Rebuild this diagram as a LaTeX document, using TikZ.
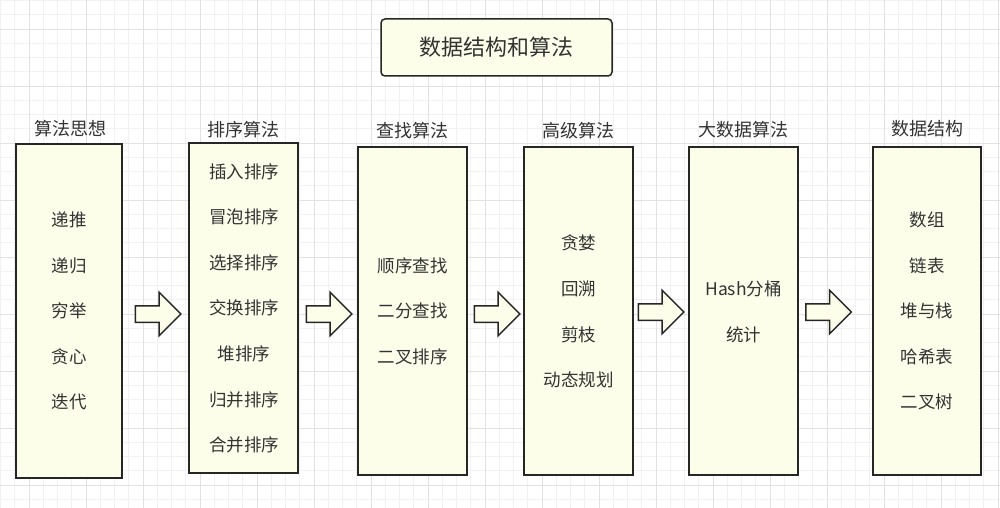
\documentclass[tikz,border=0pt]{standalone}
\usepackage{fontspec}
\setmainfont{Noto Sans CJK SC}
\usetikzlibrary{shapes.arrows}
\definecolor{boxfill}{HTML}{FDFEEA}
\definecolor{boxline}{HTML}{262626}
\definecolor{txt}{HTML}{333333}
\definecolor{gridminor}{HTML}{F1F1F1}
\definecolor{gridmajor}{HTML}{E2E2E2}
\tikzset{
  colbox/.style={draw=boxline, fill=boxfill, line width=1.5pt, inner sep=0pt},
  titlebox/.style={draw=boxline, fill=boxfill, line width=1.5pt, rounded corners=4pt, inner sep=0pt, minimum width=231pt, minimum height=57pt, font=\fontsize{22}{26}\selectfont, text=txt},
  collabel/.style={font=\fontsize{18}{22}\selectfont, text=txt, inner sep=0pt},
  item/.style={font=\fontsize{17.5}{21}\selectfont, text=txt, inner sep=0pt},
  blockarrow/.style={single arrow, draw=boxline, fill=boxfill, line width=1.5pt, minimum height=45.5pt, inner sep=7.5pt, single arrow head extend=13.5pt, single arrow tip angle=90, text width=0pt}
}
\begin{document}
\begin{tikzpicture}[x=1pt,y=-1pt]
\useasboundingbox (0,0) rectangle (1000,508);
\fill[white] (0,0) rectangle (1000,508);
% grid
\foreach \i in {0,...,70} {
  \draw[gridminor, line width=0.6pt] ({0.5+14.25*\i},0) -- ({0.5+14.25*\i},508);
}
\foreach \i in {0,...,36} {
  \draw[gridminor, line width=0.6pt] (0,{0.5+14.25*\i}) -- (1000,{0.5+14.25*\i});
}
\foreach \i in {0,...,17} {
  \draw[gridmajor, line width=0.8pt] ({29+57*\i},0) -- ({29+57*\i},508);
}
\foreach \i in {0,...,8} {
  \draw[gridmajor, line width=0.8pt] (0,{29+57*\i}) -- (1000,{29+57*\i});
}
% title
\node[titlebox] (title) at (496.5,47.5) {数据结构和算法};
% columns
\node[colbox, minimum width=106pt, minimum height=334pt] (c1) at (69,311) {};
\node[colbox, minimum width=109pt, minimum height=330pt] (c2) at (243.5,308) {};
\node[colbox, minimum width=109pt, minimum height=328pt] (c3) at (412.5,311) {};
\node[colbox, minimum width=109pt, minimum height=328pt] (c4) at (578.5,311) {};
\node[colbox, minimum width=109pt, minimum height=328pt] (c5) at (743.5,311) {};
\node[colbox, minimum width=108pt, minimum height=328pt] (c6) at (927,311) {};
% labels
\node[collabel] (l1) at (70,129) {算法思想};
\node[collabel] (l2) at (243.5,130) {排序算法};
\node[collabel] (l3) at (412.5,131) {查找算法};
\node[collabel] (l4) at (578,131) {高级算法};
\node[collabel] (l5) at (743,130) {大数据算法};
\node[collabel] (l6) at (927,129) {数据结构};
% column 1
\node[item] (a1) at (69,220) {递推};
\node[item] (a2) at (69,266) {递归};
\node[item] (a3) at (69,311) {穷举};
\node[item] (a4) at (69,357) {贪心};
\node[item] (a5) at (69,402) {迭代};
% column 2
\node[item] (b1) at (244,172) {插入排序};
\node[item] (b2) at (244,217) {冒泡排序};
\node[item] (b3) at (244,263) {选择排序};
\node[item] (b4) at (244,308) {交换排序};
\node[item] (b5) at (244,354) {堆排序};
\node[item] (b6) at (244,400) {归并排序};
\node[item] (b7) at (244,445) {合并排序};
% column 3
\node[item] (d1) at (412.5,266) {顺序查找};
\node[item] (d2) at (412.5,311) {二分查找};
\node[item] (d3) at (412.5,357) {二叉排序};
% column 4
\node[item] (e1) at (578.5,243) {贪婪};
\node[item] (e2) at (578.5,289) {回溯};
\node[item] (e3) at (578.5,335) {剪枝};
\node[item] (e4) at (578.5,380) {动态规划};
% column 5
\node[item] (f1) at (743.5,289) {Hash分桶};
\node[item] (f2) at (743.5,335) {统计};
% column 6
\node[item] (g1) at (927,220) {数组};
\node[item] (g2) at (927,266) {链表};
\node[item] (g3) at (927,311) {堆与栈};
\node[item] (g4) at (927,357) {哈希表};
\node[item] (g5) at (927,402) {二叉树};
% arrows
\node[blockarrow] (ar1) at (154,314) {};
\node[blockarrow] (ar2) at (325,314) {};
\node[blockarrow] (ar3) at (493,314) {};
\node[blockarrow] (ar4) at (657,312) {};
\node[blockarrow] (ar5) at (824.5,312) {};
\end{tikzpicture}
\end{document}
